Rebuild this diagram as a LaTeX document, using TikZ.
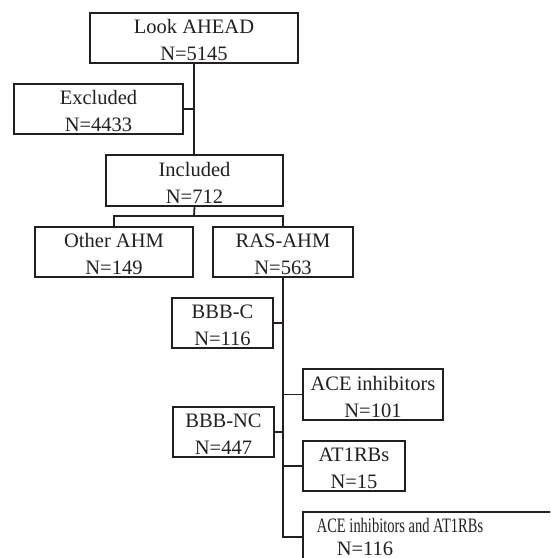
\documentclass[tikz,border=0pt]{standalone}
\usepackage{fontspec}
\setmainfont{Liberation Serif}
\usepackage{graphicx}
\definecolor{ink}{HTML}{231F20}
\begin{document}
\begin{tikzpicture}[x=1pt,y=-1pt,
  box/.style={draw=ink, line width=1.7pt, rectangle, minimum height=50pt, inner sep=0pt},
  txt/.style={font=\fontsize{20.5}{27}\selectfont, align=center, inner sep=0pt, text=ink},
  link/.style={draw=ink, line width=1.8pt}]
\useasboundingbox (0,0) rectangle (550,558);
\clip (0,0) rectangle (550,558);
% boxes
\node[box, minimum width=208pt] (look) at (194,38) {};
\node[box, minimum width=169pt] (excl) at (98.5,109) {};
\node[box, minimum width=177pt, minimum height=51pt] (incl) at (194.5,180.5) {};
\node[box, minimum width=158pt] (other) at (114,252) {};
\node[box, minimum width=140pt] (ras) at (283,252) {};
\node[box, minimum width=101pt] (bbbc) at (222.5,323) {};
\node[box, minimum width=140pt, minimum height=51pt] (ace) at (373,394.5) {};
\node[box, minimum width=101pt] (bbbnc) at (223.5,432) {};
\node[box, minimum width=102pt] (at1) at (354,466) {};
\node[box, minimum width=257pt] (bot) at (431.5,537) {};
% texts
\node[txt, yshift=-2pt] (lookt) at (look.center) {Look AHEAD\\N=5145};
\node[txt, yshift=-2pt] (exclt) at (excl.center) {Excluded\\N=4433};
\node[txt, yshift=-2pt] (inclt) at (incl.center) {Included\\N=712};
\node[txt, yshift=-2pt] (othert) at (other.center) {Other AHM\\N=149};
\node[txt, yshift=-2pt] (rast) at (ras.center) {RAS-AHM\\N=563};
\node[txt, yshift=-2pt] (bbbct) at (bbbc.center) {BBB-C\\N=116};
\node[txt, yshift=-2pt] (acet) at (ace.center) {ACE inhibitors\\N=101};
\node[txt, yshift=-2pt] (bbbnct) at (bbbnc.center) {BBB-NC\\N=447};
\node[txt, yshift=-2pt] (at1t) at (at1.center) {AT1RBs\\N=15};
\node[txt, anchor=base] (bott1) at (400,532) {\scalebox{0.707}[1]{ACE inhibitors and AT1RBs}};
\node[txt, anchor=base] (bott2) at (365,555) {N=116};
% connectors
\coordinate (br) at (194,216);
\draw[link] (look.south) -- (look.south |- incl.north);
\draw[link] (excl.east) -- (excl.east -| look.south);
\draw[link] (incl.south) -- (br);
\draw[link] (other.north) |- (br) -| (ras.north);
\draw[link] (ras.south) |- (bot.west);
\draw[link] (bbbc.east) -- (bbbc.east -| ras.south);
\draw[link] (bbbnc.east) -- (bbbnc.east -| ras.south);
\draw[link] (ace.west) -- (ace.west -| ras.south);
\draw[link] (at1.west) -- (at1.west -| ras.south);
\end{tikzpicture}
\end{document}
